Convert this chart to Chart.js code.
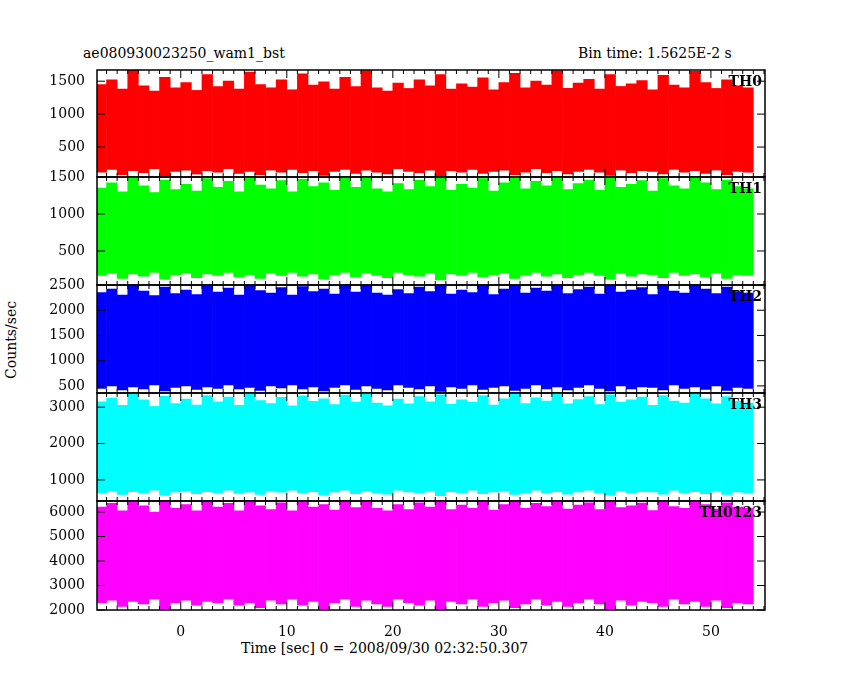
<!DOCTYPE html>
<html><head><meta charset="utf-8">
<script src="https://cdn.jsdelivr.net/npm/chart.js@4"></script>
<style>
body{margin:0;background:#fff;width:850px;height:680px;position:relative;overflow:hidden;font-family:"DejaVu Serif",serif;}
canvas{position:absolute;left:0;}
.t{position:absolute;font-size:14px;color:#000;white-space:nowrap;}
</style></head><body>
<div class="t" style="left:83px;top:45px">ae080930023250_wam1_bst</div>
<div class="t" style="left:578px;top:45px">Bin time: 1.5625E-2 s</div>
<div class="t" style="left:-28px;top:332px;transform:rotate(-90deg)">Counts/sec</div>
<div class="t" style="left:241px;top:640px">Time [sec] 0 = 2008/09/30 02:32:50.307</div>
<script>
// time bins (s)
const times = [-7.5,-6.5,-5.5,-4.5,-3.5,-2.5,-1.5,-0.5,0.5,1.5,2.5,3.5,4.5,5.5,6.5,7.5,8.5,9.5,10.5,11.5,12.5,13.5,14.5,15.5,16.5,17.5,18.5,19.5,20.5,21.5,22.5,23.5,24.5,25.5,26.5,27.5,28.5,29.5,30.5,31.5,32.5,33.5,34.5,35.5,36.5,37.5,38.5,39.5,40.5,41.5,42.5,43.5,44.5,45.5,46.5,47.5,48.5,49.5,50.5,51.5,52.5,53.5];

const th0Hi = [1450,1520,1380,1670,1430,1350,1560,1400,1480,1360,1600,1420,1500,1380,1640,1450,1400,1520,1370,1610,1440,1490,1380,1560,1420,1660,1400,1350,1470,1390,1520,1430,1600,1380,1460,1410,1550,1370,1480,1620,1400,1500,1440,1660,1390,1470,1530,1380,1600,1420,1460,1510,1370,1590,1440,1400,1650,1480,1390,1520,1430,1400];
const th0Lo = [120,160,80,140,110,170,60,130,150,90,140,120,170,100,130,80,150,120,160,110,140,70,130,160,100,150,120,90,170,130,110,150,60,140,120,160,100,130,150,80,120,170,110,140,90,130,160,120,70,150,110,140,130,90,160,120,140,100,150,80,130,120];

const th1Hi = [1350,1420,1300,1500,1380,1290,1460,1330,1400,1310,1480,1360,1440,1300,1500,1390,1340,1450,1300,1470,1370,1420,1320,1490,1360,1500,1340,1300,1410,1330,1460,1370,1490,1320,1400,1350,1480,1310,1420,1500,1340,1440,1380,1500,1330,1410,1460,1320,1490,1360,1400,1450,1310,1480,1380,1340,1500,1420,1330,1460,1370,1340];
const th1Lo = [170,200,130,190,160,210,120,180,200,140,190,170,210,150,180,130,200,170,210,160,190,120,180,210,150,200,170,140,210,180,160,200,110,190,170,210,150,180,200,130,170,210,160,190,140,180,210,170,120,200,160,190,180,140,210,170,190,150,200,130,180,170];

const th2Hi = [2350,2420,2300,2500,2380,2290,2460,2330,2400,2310,2480,2360,2440,2300,2500,2390,2340,2450,2300,2470,2370,2420,2320,2490,2360,2500,2340,2300,2410,2330,2460,2370,2490,2320,2400,2350,2480,2310,2420,2500,2340,2440,2380,2500,2330,2410,2460,2320,2490,2360,2400,2450,2310,2480,2380,2340,2500,2420,2330,2460,2370,2340];
const th2Lo = [450,500,420,480,440,520,400,470,500,430,480,450,520,440,470,410,500,460,520,440,480,400,470,520,430,500,450,420,520,470,440,500,390,480,450,520,430,470,500,410,450,520,440,480,420,470,520,450,400,500,440,480,470,420,520,450,480,430,500,410,470,450];

const th3Hi = [3150,3250,3050,3350,3200,3020,3300,3100,3220,3060,3320,3150,3280,3050,3390,3180,3100,3270,3040,3310,3160,3230,3070,3330,3140,3380,3110,3040,3220,3090,3290,3150,3340,3080,3200,3130,3320,3060,3230,3360,3100,3260,3170,3380,3090,3210,3290,3070,3340,3140,3200,3280,3050,3320,3170,3110,3370,3230,3090,3290,3160,3110];
const th3Lo = [650,700,600,680,640,720,580,670,700,620,680,650,720,630,670,600,700,660,720,640,680,590,670,720,620,700,650,610,720,670,640,700,570,680,650,720,620,670,700,600,650,720,640,680,610,670,720,650,590,700,640,680,670,610,720,650,680,620,700,600,670,650];

const th4Hi = [6200,6350,6050,6450,6250,6000,6400,6150,6300,6050,6420,6200,6350,6050,6450,6250,6100,6380,6050,6400,6200,6300,6080,6430,6180,6450,6150,6050,6300,6100,6380,6200,6450,6100,6280,6150,6420,6080,6300,6450,6150,6350,6220,6450,6120,6280,6380,6100,6430,6180,6250,6370,6060,6420,6220,6150,6450,6300,6120,6380,6200,6150];
const th4Lo = [2300,2400,2150,2350,2250,2450,2050,2300,2400,2200,2350,2300,2450,2200,2300,2100,2400,2250,2450,2200,2350,2050,2300,2450,2150,2400,2250,2150,2450,2300,2200,2400,2000,2350,2250,2450,2150,2300,2400,2100,2250,2450,2200,2350,2150,2300,2450,2250,2050,2400,2200,2350,2300,2150,2450,2250,2350,2150,2400,2100,2300,2250];

const panels = [
  {name:'TH0', hi:th0Hi, lo:th0Lo, color:'#ff0000', min:45, max:1670, ticks:[500,1000,1500], top:70, h:107},
  {name:'TH1', hi:th1Hi, lo:th1Lo, color:'#00ff00', min:40, max:1500, ticks:[500,1000,1500], top:177, h:108},
  {name:'TH2', hi:th2Hi, lo:th2Lo, color:'#0000ff', min:360, max:2500, ticks:[500,1000,1500,2000,2500], top:285, h:108},
  {name:'TH3', hi:th3Hi, lo:th3Lo, color:'#00ffff', min:420, max:3390, ticks:[1000,2000,3000], top:393, h:108},
  {name:'TH0123', hi:th4Hi, lo:th4Lo, color:'#ff00ff', min:2000, max:6450, ticks:[2000,3000,4000,5000,6000], top:501, h:109}
];
const xTicks = [0,10,20,30,40,50];
const PAD = 14;

// box + inward tick marks
const framePlugin = {
  id:'frame',
  afterDraw(chart){
    const c = chart.ctx, a = chart.chartArea, xs = chart.scales.x, ys = chart.scales.y;
    c.save();
    c.strokeStyle = '#000'; c.lineWidth = 1.5;
    c.strokeRect(a.left, a.top, a.right - a.left, a.bottom - a.top);
    c.lineWidth = 1;
    c.beginPath();
    for (let v = -7; v <= 55; v++) {
      const px = xs.getPixelForValue(v), len = v % 10 === 0 ? 8 : 4;
      c.moveTo(px, a.bottom); c.lineTo(px, a.bottom - len);
      c.moveTo(px, a.top); c.lineTo(px, a.top + len);
    }
    ys.ticks.forEach(t => {
      const py = ys.getPixelForValue(t.value);
      c.moveTo(a.left, py); c.lineTo(a.left + 8, py);
      c.moveTo(a.right, py); c.lineTo(a.right - 8, py);
    });
    c.stroke();
    c.fillStyle = '#000';
    c.font = 'bold 14px "DejaVu Serif"';
    c.textAlign = 'right'; c.textBaseline = 'top';
    c.fillText(chart.options.plugins.frame.label, a.right - 3, a.top + 5);
    c.restore();
  }
};

panels.forEach((p, i) => {
  const last = i === panels.length - 1;
  const cv = document.createElement('canvas');
  const ch = p.h + 2 * PAD + (last ? 30 : 0);
  cv.style.top = (p.top - PAD) + 'px';
  cv.style.width = '850px'; cv.style.height = ch + 'px';
  cv.width = 850; cv.height = ch;
  document.body.appendChild(cv);
  new Chart(cv.getContext('2d'), {
    type:'bar',
    data:{ datasets:[{
      data: times.map((t, k) => ({x:t, y:[p.lo[k], p.hi[k]]})),
      backgroundColor:p.color, borderWidth:0,
      barPercentage:1, categoryPercentage:1
    }]},
    options:{
      responsive:false, animation:false,
      layout:{padding:{left:0, right:85, top:PAD, bottom:last ? 0 : PAD}},
      plugins:{legend:{display:false}, tooltip:{enabled:false}, frame:{label:p.name}},
      scales:{
        x:{type:'linear', min:-7.9, max:55.1, offset:false,
           grid:{display:false}, border:{display:false},
           afterBuildTicks: s => { s.ticks = xTicks.map(v => ({value:v})); },
           afterFit: s => { s.height = last ? 30 + PAD : 0; },
           ticks:{display:last, color:'#000', font:{family:'DejaVu Serif', size:14}, maxRotation:0, padding:6}},
        y:{min:p.min, max:p.max, grid:{display:false}, border:{display:false},
           afterBuildTicks: s => { s.ticks = p.ticks.map(v => ({value:v})); },
           afterFit: s => { s.width = 97; },
           ticks:{color:'#000', font:{family:'DejaVu Serif', size:14}, padding:4, callback: v => String(v)}}
      }
    },
    plugins:[framePlugin]
  });
});
</script>
</body></html>
